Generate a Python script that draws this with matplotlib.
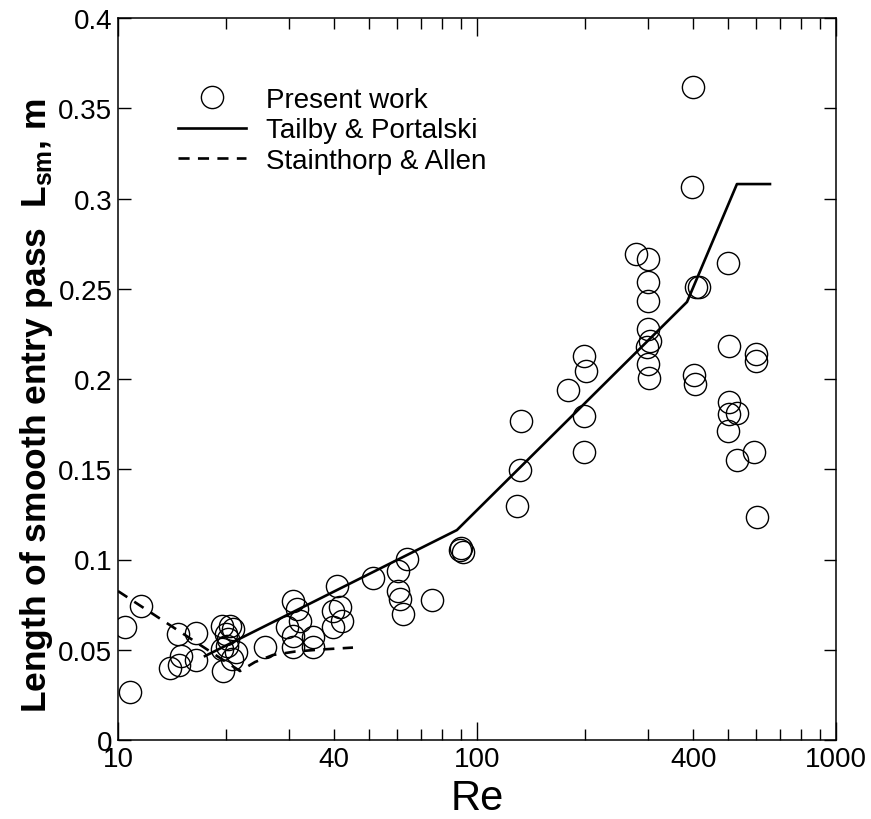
import matplotlib
matplotlib.use("Agg")
import matplotlib.pyplot as plt
from matplotlib.ticker import FixedLocator

plt.rcParams['font.family'] = ['Liberation Sans', 'DejaVu Sans']
plt.rcParams['lines.scale_dashes'] = False
plt.rcParams['mathtext.fontset'] = 'custom'
plt.rcParams['mathtext.bf'] = 'Liberation Sans:bold'
plt.rcParams['mathtext.rm'] = 'Liberation Sans'

# Present work (Re, L_sm in m)
re_pw = [10.46, 10.80, 11.59, 13.96, 14.79, 14.98, 14.70, 16.49, 16.49,
         19.44, 20.51, 20.96, 19.99, 20.29, 20.08, 19.44, 21.32, 20.74, 19.57,
         25.67, 30.78, 32.14, 29.56, 30.72, 30.72, 34.93, 34.93, 31.47,
         40.66, 41.53, 39.71, 41.98, 39.78,
         51.42, 60.36, 63.71, 60.36, 61.02, 62.09, 74.77,
         89.7, 91.4, 90.5,
         128.97, 132.6, 131.8,
         179.6, 199.0, 201.2, 199.0, 198.6,
         276.7, 298.9, 300.1, 300.1, 300.1, 303.3, 297.0, 300.1, 302.0,
         400.5, 397.9, 407.4, 415.3, 403.1, 404.9,
         501.2, 503.5, 503.5, 503.5, 531.0, 499.3, 531.0,
         598.9, 598.9, 591.1, 601.5]
L_pw = [0.0626, 0.0266, 0.0742, 0.0399, 0.0416, 0.0465, 0.0587, 0.0593, 0.0443,
        0.0630, 0.0630, 0.0615, 0.0587, 0.0560, 0.0522, 0.0504, 0.0486, 0.0449, 0.0384,
        0.0515, 0.0770, 0.0659, 0.0626, 0.0576, 0.0515, 0.0515, 0.0571, 0.0726,
        0.0855, 0.0737, 0.0716, 0.0661, 0.0626,
        0.0898, 0.0938, 0.1003, 0.0827, 0.0781, 0.0698, 0.0777,
        0.1053, 0.1042, 0.1066,
        0.1298, 0.1769, 0.1498,
        0.1941, 0.2129, 0.2046, 0.1797, 0.1597,
        0.2693, 0.2665, 0.2539, 0.2434, 0.2277, 0.2212, 0.2176, 0.2083, 0.2006,
        0.3616, 0.3065, 0.2508, 0.2508, 0.2022, 0.1972,
        0.2643, 0.2185, 0.1874, 0.1806, 0.1812, 0.1714, 0.1553,
        0.2139, 0.2101, 0.1597, 0.1237]

# Tailby & Portalski
re_tp = [17.47, 87.9, 384.6, 529.7, 654.8]
L_tp = [0.0465, 0.1163, 0.2427, 0.308, 0.308]

# Stainthorp & Allen
re_sa = [10.0, 21.87, 24.08, 27.03, 31.12, 36.53, 45.14]
L_sa = [0.0825, 0.0382, 0.0432, 0.0471, 0.0490, 0.0501, 0.0512]

x_major = [10, 100, 1000]
x_minor = [20, 30, 40, 50, 60, 70, 80, 90, 200, 300, 400, 500, 600, 700, 800, 900]
x_labels = {10: '10', 40: '40', 100: '100', 400: '400', 1000: '1000'}
y_ticks = [0, 0.05, 0.1, 0.15, 0.2, 0.25, 0.3, 0.35, 0.4]
y_labels = ['0', '0.05', '0.1', '0.15', '0.2', '0.25', '0.3', '0.35', '0.4']

fig = plt.figure(figsize=(8.71, 8.2), dpi=100)
ax = fig.add_axes([118/871, 79/820, 718/871, 722/820])

ax.plot(re_pw, L_pw, linestyle='none', marker='o', markersize=16,
        markerfacecolor='none', markeredgecolor='black', markeredgewidth=1.0,
        label='Present work')
ax.plot(re_tp, L_tp, color='black', lw=1.9, label='Tailby & Portalski')
ax.plot(re_sa, L_sa, color='black', lw=1.9, dashes=(8, 6),
        label='Stainthorp & Allen')

ax.set_xscale('log')
ax.set_xlim(10, 1000)
ax.set_ylim(0, 0.4)

ax.xaxis.set_major_locator(FixedLocator(x_major))
ax.set_xticklabels([x_labels[v] for v in x_major])
ax.set_xticks(x_minor, minor=True)
ax.set_xticklabels([x_labels.get(v, '') for v in x_minor], minor=True)
ax.set_yticks(y_ticks)
ax.set_yticklabels(y_labels)

ax.tick_params(axis='both', which='both', direction='in', top=True, right=True,
               labelsize=20, width=1.0)
ax.tick_params(axis='x', which='major', length=13, pad=4)
ax.tick_params(axis='x', which='minor', length=8, pad=4)
ax.tick_params(axis='y', which='major', length=9, pad=4)
for sp in ax.spines.values():
    sp.set_linewidth(1.1)

ax.set_xlabel('Re', fontsize=30, labelpad=5)

ax.set_ylabel('Length of smooth entry pass  L$_{\\mathbf{sm}}$, m', fontsize=25.5,
              fontweight='bold')
ax.yaxis.set_label_coords(-0.088, 0.465)

leg = ax.legend(loc='upper left', bbox_to_anchor=(0.084, 0.905), frameon=False,
                fontsize=20, handlelength=2.45, handletextpad=0.72,
                labelspacing=0.17, borderaxespad=0, borderpad=0)

fig.savefig('out.png', dpi=100)
